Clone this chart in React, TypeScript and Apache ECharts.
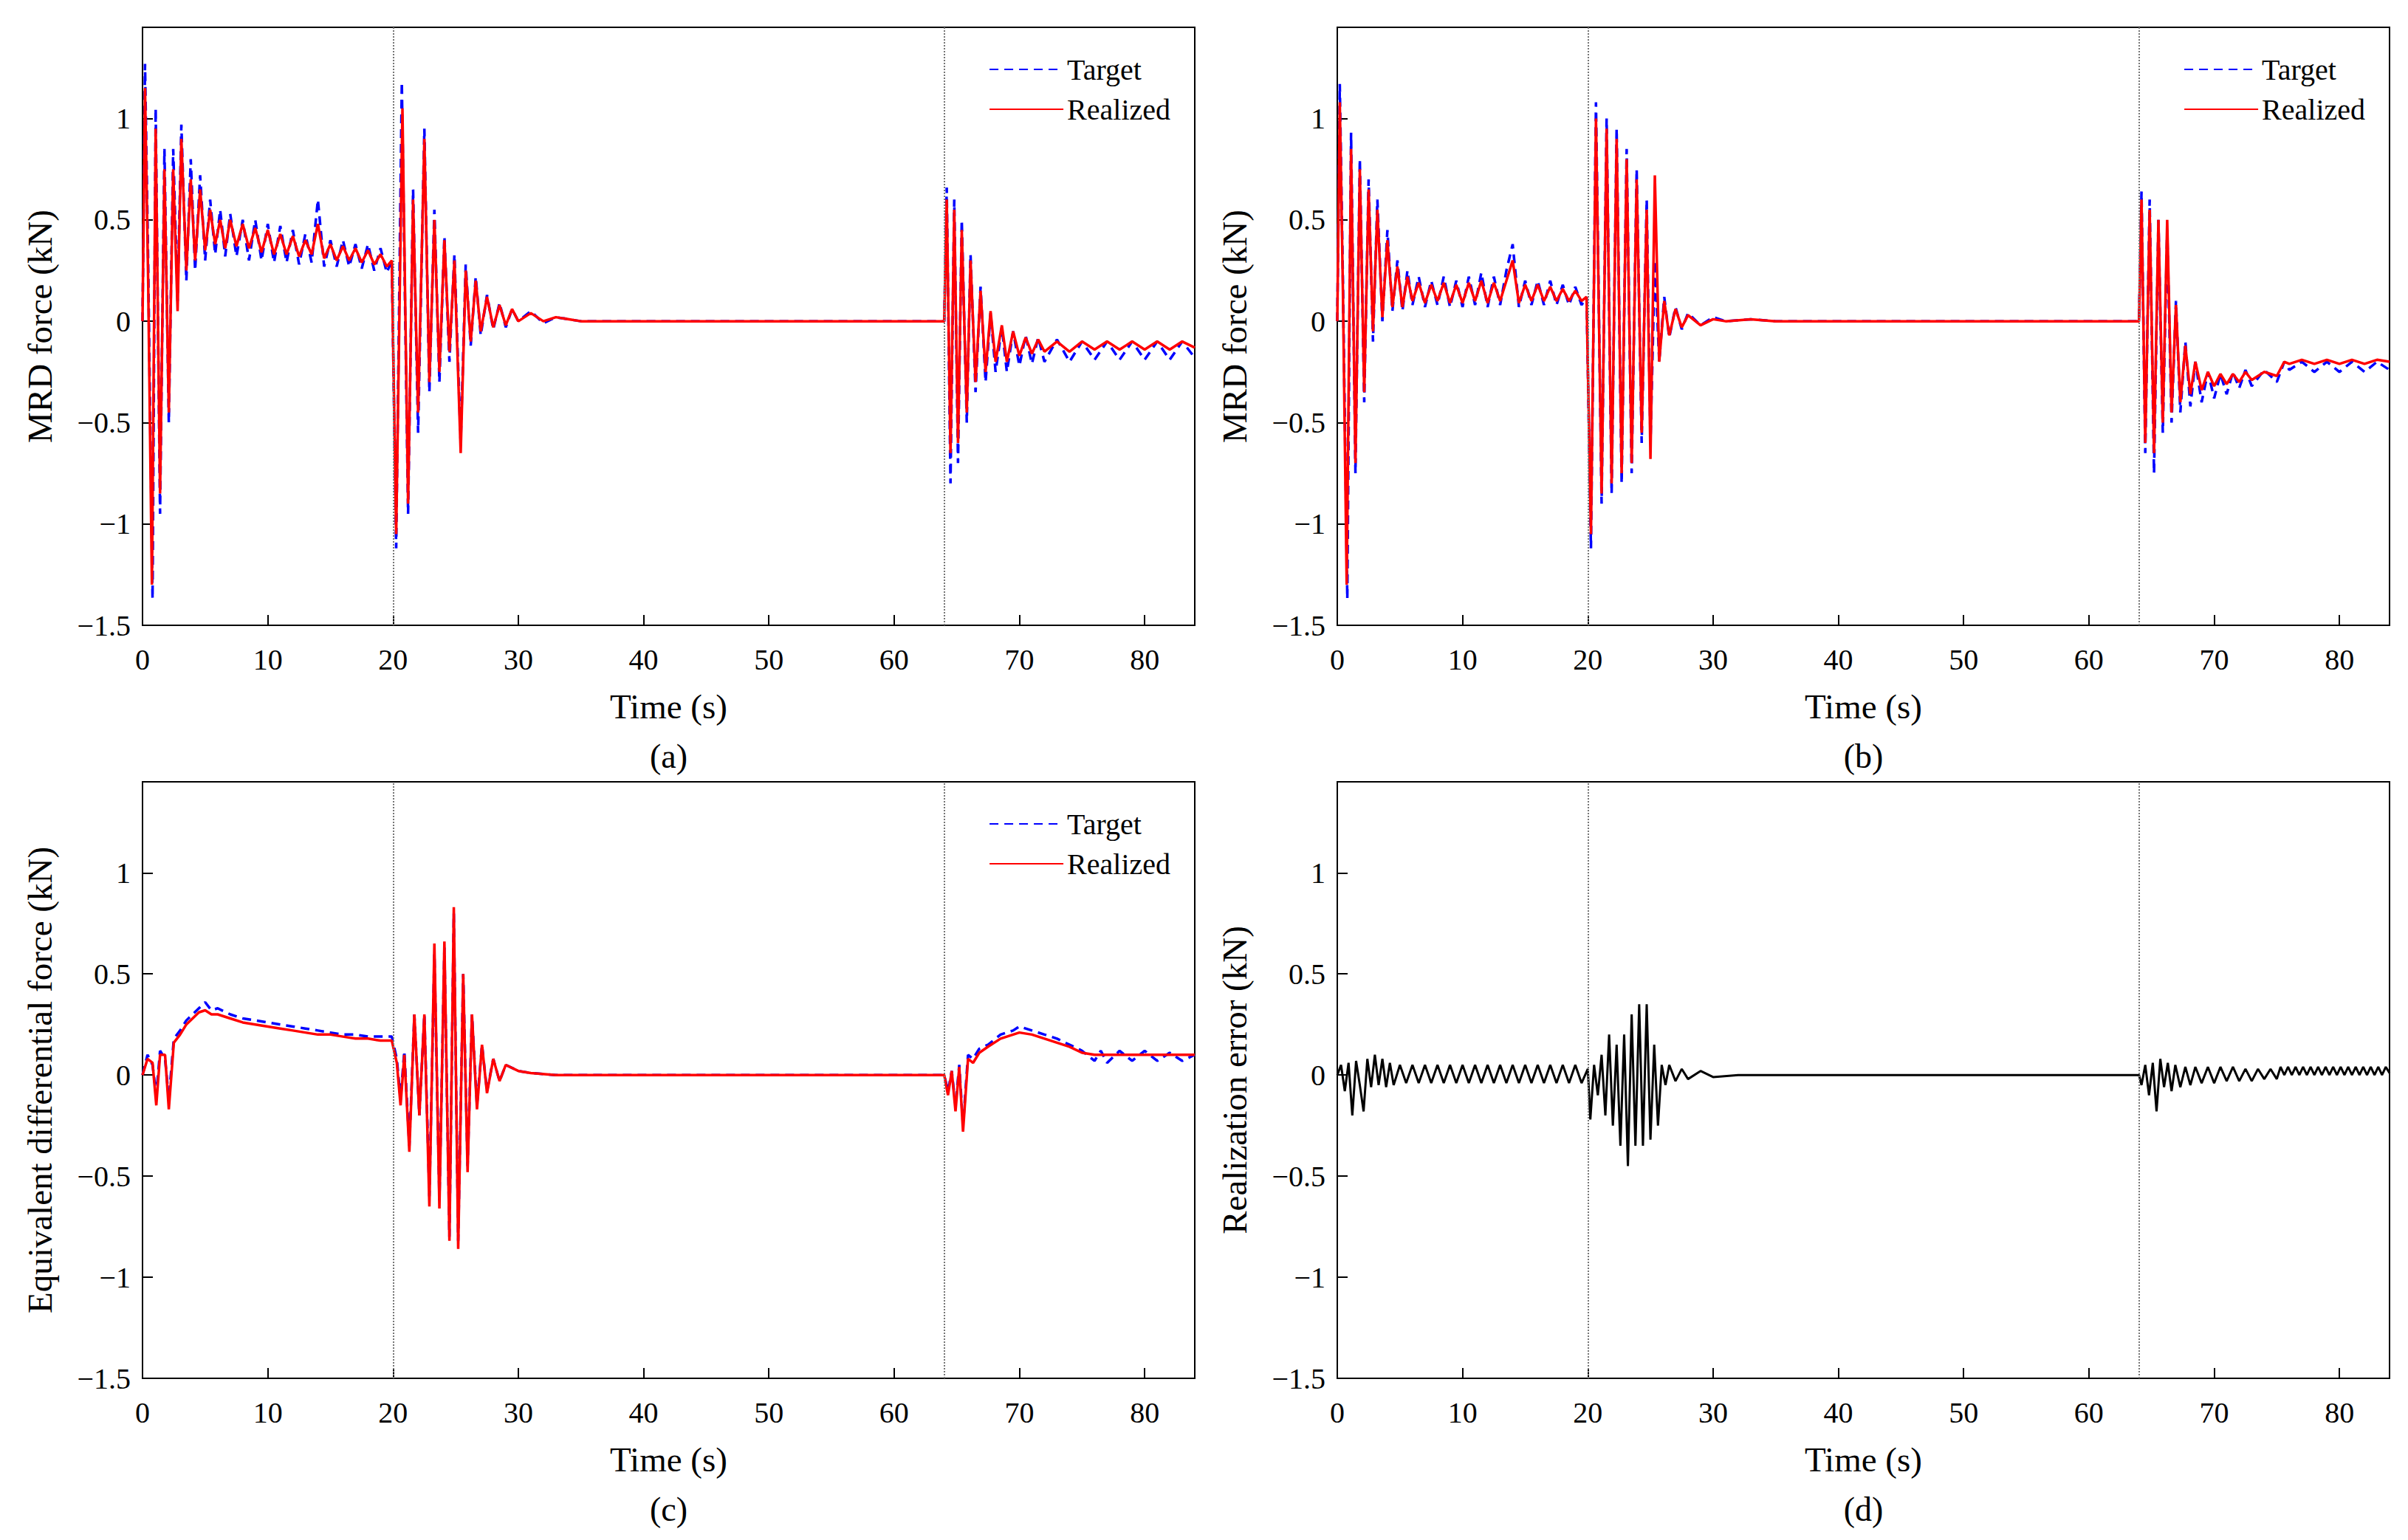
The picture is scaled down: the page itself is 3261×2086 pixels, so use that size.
import React, { useEffect, useRef } from "react";
import * as echarts from "echarts";

const aTarget: number[][] = [[0,0],[0.2,1.27],[0.45,0.3],[0.8,-1.37],[1.05,1.05],[1.4,-0.95],[1.75,0.85],[2.1,-0.5],[2.45,0.85],[2.8,0.1],[3.1,0.97],[3.5,0.2],[3.85,0.8],[4.2,0.25],[4.6,0.72],[5,0.3],[5.4,0.6],[5.8,0.33],[6.2,0.55],[6.6,0.32],[7,0.53],[7.5,0.32],[8,0.5],[8.5,0.3],[9,0.5],[9.5,0.3],[10,0.48],[10.5,0.29],[11,0.47],[11.5,0.29],[12,0.45],[12.5,0.28],[13,0.43],[13.5,0.29],[14,0.6],[14.5,0.27],[15,0.4],[15.5,0.27],[16,0.4],[16.5,0.27],[17,0.38],[17.5,0.26],[18,0.38],[18.5,0.25],[19,0.36],[19.5,0.24],[19.9,0.3],[20.25,-1.12],[20.7,1.18],[21.2,-0.95],[21.6,0.65],[22.0,-0.55],[22.5,0.95],[22.9,-0.35],[23.3,0.55],[23.7,-0.3],[24.1,0.42],[24.5,-0.2],[24.9,0.33],[25.4,-0.6],[25.8,0.28],[26.2,-0.12],[26.6,0.22],[27,-0.07],[27.5,0.13],[28,-0.04],[28.5,0.09],[29,-0.03],[29.5,0.06],[30,0],[31,0.05],[32,-0.01],[33,0.02],[35,0],[64,0],[64.2,0.66],[64.5,-0.8],[64.8,0.6],[65.1,-0.7],[65.4,0.5],[65.8,-0.5],[66.1,0.33],[66.5,-0.35],[66.9,0.17],[67.3,-0.3],[67.7,0.04],[68.1,-0.25],[68.6,-0.03],[69,-0.25],[69.5,-0.05],[70,-0.22],[70.5,-0.07],[71,-0.21],[71.5,-0.08],[72,-0.2],[73,-0.09],[74,-0.2],[75,-0.1],[76,-0.19],[77,-0.1],[78,-0.19],[79,-0.1],[80,-0.19],[81,-0.1],[82,-0.19],[83,-0.1],[84,-0.18]];
const aRealized: number[][] = [[0,0],[0.2,1.15],[0.45,0.2],[0.75,-1.3],[1.05,0.95],[1.4,-0.85],[1.75,0.75],[2.1,-0.45],[2.45,0.75],[2.8,0.05],[3.1,0.9],[3.5,0.25],[3.85,0.7],[4.2,0.3],[4.6,0.65],[5,0.35],[5.4,0.55],[5.8,0.38],[6.2,0.5],[6.6,0.36],[7,0.5],[7.5,0.37],[8,0.48],[8.5,0.36],[9,0.46],[9.5,0.34],[10,0.45],[10.5,0.33],[11,0.43],[11.5,0.33],[12,0.42],[12.5,0.32],[13,0.4],[13.5,0.33],[14,0.48],[14.5,0.31],[15,0.38],[15.5,0.3],[16,0.37],[16.5,0.3],[17,0.36],[17.5,0.29],[18,0.35],[18.5,0.28],[19,0.33],[19.5,0.27],[19.9,0.3],[20.25,-1.05],[20.75,1.05],[21.2,-0.9],[21.6,0.6],[22.0,-0.45],[22.5,0.9],[22.9,-0.3],[23.3,0.5],[23.7,-0.25],[24.1,0.4],[24.5,-0.15],[24.9,0.3],[25.4,-0.65],[25.8,0.25],[26.2,-0.1],[26.6,0.2],[27,-0.05],[27.5,0.12],[28,-0.03],[28.5,0.08],[29,-0.02],[29.5,0.06],[30,0],[31,0.04],[32,0],[33,0.02],[35,0],[64,0],[64.2,0.6],[64.5,-0.65],[64.8,0.55],[65.1,-0.6],[65.4,0.45],[65.8,-0.45],[66.1,0.3],[66.5,-0.3],[66.9,0.15],[67.3,-0.25],[67.7,0.05],[68.1,-0.2],[68.6,-0.02],[69,-0.2],[69.5,-0.05],[70,-0.17],[70.5,-0.08],[71,-0.16],[71.5,-0.09],[72,-0.15],[73,-0.1],[74,-0.15],[75,-0.1],[76,-0.14],[77,-0.1],[78,-0.14],[79,-0.1],[80,-0.14],[81,-0.1],[82,-0.14],[83,-0.1],[84,-0.13]];

const bTarget: number[][] = [[0,0],[0.2,1.17],[0.45,0.2],[0.8,-1.37],[1.1,0.93],[1.45,-0.75],[1.8,0.8],[2.15,-0.4],[2.5,0.7],[2.85,-0.1],[3.2,0.6],[3.6,0.0],[4,0.45],[4.4,0.05],[4.8,0.3],[5.2,0.05],[5.6,0.25],[6,0.08],[6.5,0.22],[7,0.07],[7.5,0.2],[8,0.08],[8.5,0.22],[9,0.07],[9.5,0.2],[10,0.07],[10.5,0.22],[11,0.08],[11.5,0.24],[12,0.07],[12.5,0.22],[13,0.08],[13.5,0.25],[14,0.38],[14.5,0.07],[15,0.2],[15.5,0.08],[16,0.2],[16.5,0.08],[17,0.2],[17.5,0.08],[18,0.18],[18.5,0.08],[19,0.17],[19.5,0.08],[19.9,0.12],[20.25,-1.12],[20.65,1.08],[21.1,-0.9],[21.5,1.0],[21.9,-0.85],[22.3,0.95],[22.7,-0.8],[23.1,0.85],[23.5,-0.75],[23.9,0.75],[24.3,-0.6],[24.7,0.6],[25.0,-0.6],[25.35,0.3],[25.7,-0.2],[26.1,0.12],[26.5,-0.08],[27,0.07],[27.5,-0.04],[28,0.04],[29,-0.02],[30,0.02],[31,0],[33,0.01],[35,0],[64,0],[64.2,0.64],[64.5,-0.65],[64.85,0.6],[65.2,-0.75],[65.55,0.5],[65.9,-0.55],[66.25,0.45],[66.6,-0.5],[66.95,0.1],[67.3,-0.45],[67.7,-0.1],[68.1,-0.42],[68.5,-0.2],[69,-0.4],[69.5,-0.25],[70,-0.38],[70.5,-0.26],[71,-0.36],[71.5,-0.25],[72,-0.33],[72.5,-0.24],[73,-0.32],[74,-0.24],[75,-0.3],[75.6,-0.2],[76,-0.24],[77,-0.2],[78,-0.25],[79,-0.2],[80,-0.25],[81,-0.2],[82,-0.25],[83,-0.2],[84,-0.24]];
const bRealized: number[][] = [[0,0],[0.2,1.08],[0.45,0.15],[0.75,-1.3],[1.1,0.85],[1.45,-0.7],[1.8,0.75],[2.15,-0.35],[2.5,0.65],[2.85,-0.05],[3.2,0.55],[3.6,0.02],[4,0.4],[4.4,0.07],[4.8,0.27],[5.2,0.07],[5.6,0.22],[6,0.1],[6.5,0.19],[7,0.09],[7.5,0.18],[8,0.1],[8.5,0.19],[9,0.09],[9.5,0.18],[10,0.09],[10.5,0.19],[11,0.1],[11.5,0.2],[12,0.09],[12.5,0.19],[13,0.1],[13.5,0.2],[14,0.3],[14.5,0.09],[15,0.18],[15.5,0.1],[16,0.18],[16.5,0.1],[17,0.17],[17.5,0.1],[18,0.16],[18.5,0.1],[19,0.15],[19.5,0.1],[19.9,0.12],[20.25,-1.05],[20.65,1.0],[21.1,-0.85],[21.5,0.95],[21.9,-0.8],[22.3,0.9],[22.7,-0.75],[23.1,0.8],[23.5,-0.7],[23.9,0.7],[24.3,-0.55],[24.7,0.55],[25.0,-0.68],[25.35,0.72],[25.7,-0.2],[26.1,0.1],[26.5,-0.07],[27,0.06],[27.5,-0.03],[28,0.03],[29,-0.02],[30,0.01],[31,0],[33,0.01],[35,0],[64,0],[64.2,0.6],[64.5,-0.6],[64.85,0.55],[65.2,-0.65],[65.55,0.5],[65.9,-0.5],[66.25,0.5],[66.6,-0.45],[66.95,0.08],[67.3,-0.4],[67.7,-0.12],[68.1,-0.36],[68.5,-0.2],[69,-0.34],[69.5,-0.25],[70,-0.32],[70.5,-0.26],[71,-0.31],[71.5,-0.26],[72,-0.3],[72.5,-0.25],[73,-0.29],[74,-0.25],[75,-0.27],[75.6,-0.2],[76,-0.21],[77,-0.19],[78,-0.21],[79,-0.19],[80,-0.21],[81,-0.19],[82,-0.21],[83,-0.19],[84,-0.2]];

const cTarget: number[][] = [[0,0],[0.4,0.1],[0.8,0.05],[1.1,-0.1],[1.4,0.12],[1.8,0.08],[2.1,-0.12],[2.5,0.18],[3,0.22],[3.5,0.27],[4,0.3],[4.5,0.33],[5,0.36],[5.5,0.32],[6,0.33],[7,0.3],[8,0.28],[9,0.27],[10,0.26],[11,0.25],[12,0.24],[13,0.23],[14,0.22],[15,0.21],[16,0.2],[17,0.2],[18,0.19],[19,0.19],[19.9,0.19],[20.3,0.08],[20.6,-0.12],[20.9,0.12],[21.3,-0.35],[21.7,0.3],[22.1,-0.2],[22.5,0.3],[22.9,-0.6],[23.3,0.6],[23.7,-0.62],[24.1,0.63],[24.5,-0.8],[24.85,0.8],[25.2,-0.82],[25.6,0.5],[25.95,-0.45],[26.3,0.3],[26.7,-0.15],[27.1,0.15],[27.5,-0.08],[28,0.08],[28.5,-0.03],[29,0.05],[30,0.02],[31,0.01],[33,0],[64,0],[64.3,-0.08],[64.6,0.02],[64.9,-0.15],[65.2,0.05],[65.5,-0.25],[65.9,0.1],[66.3,0.08],[66.8,0.13],[67.5,0.15],[68.5,0.2],[69.5,0.22],[70,0.24],[71,0.22],[72,0.2],[73,0.18],[74,0.15],[75,0.12],[76,0.07],[76.5,0.12],[77,0.06],[78,0.12],[79,0.07],[80,0.12],[81,0.07],[82,0.11],[83,0.07],[84,0.1]];
const cRealized: number[][] = [[0,0],[0.4,0.08],[0.8,0.06],[1.1,-0.15],[1.4,0.1],[1.8,0.1],[2.1,-0.17],[2.5,0.16],[3,0.2],[3.5,0.25],[4,0.28],[4.5,0.31],[5,0.32],[5.5,0.3],[6,0.3],[7,0.28],[8,0.26],[9,0.25],[10,0.24],[11,0.23],[12,0.22],[13,0.21],[14,0.2],[15,0.2],[16,0.19],[17,0.18],[18,0.18],[19,0.17],[19.9,0.17],[20.3,0.06],[20.6,-0.15],[20.9,0.1],[21.3,-0.38],[21.7,0.3],[22.1,-0.2],[22.5,0.3],[22.9,-0.65],[23.3,0.65],[23.7,-0.66],[24.1,0.66],[24.5,-0.82],[24.85,0.83],[25.2,-0.86],[25.6,0.5],[25.95,-0.48],[26.3,0.3],[26.7,-0.17],[27.1,0.15],[27.5,-0.09],[28,0.08],[28.5,-0.03],[29,0.05],[30,0.02],[31,0.01],[33,0],[64,0],[64.3,-0.1],[64.6,0.02],[64.9,-0.18],[65.2,0.04],[65.5,-0.28],[65.9,0.08],[66.3,0.06],[66.8,0.11],[67.5,0.14],[68.5,0.18],[69.5,0.2],[70,0.21],[71,0.2],[72,0.18],[73,0.16],[74,0.14],[75,0.11],[76,0.1],[77,0.1],[78,0.1],[79,0.1],[80,0.1],[81,0.1],[82,0.1],[83,0.1],[84,0.1]];

const dError: number[][] = [[0,0],[0.3,0.05],[0.6,-0.08],[0.9,0.06],[1.2,-0.2],[1.5,0.07],[1.8,-0.05],[2.1,-0.18],[2.4,0.08],[2.7,-0.06],[3.0,0.1],[3.3,-0.05],[3.6,0.08],[3.9,-0.06],[4.2,0.06],[4.5,-0.05],[5,0.05],[5.5,-0.04],[6,0.05],[6.5,-0.04],[7,0.05],[7.5,-0.04],[8,0.05],[8.5,-0.04],[9,0.05],[9.5,-0.04],[10,0.05],[10.5,-0.04],[11,0.05],[11.5,-0.04],[12,0.05],[12.5,-0.04],[13,0.05],[13.5,-0.04],[14,0.05],[14.5,-0.04],[15,0.05],[15.5,-0.04],[16,0.05],[16.5,-0.04],[17,0.05],[17.5,-0.04],[18,0.05],[18.5,-0.04],[19,0.05],[19.5,-0.04],[20,0.03],[20.2,-0.22],[20.5,0.05],[20.8,-0.1],[21.1,0.1],[21.4,-0.2],[21.7,0.2],[22.0,-0.25],[22.3,0.15],[22.6,-0.35],[22.9,0.2],[23.2,-0.45],[23.5,0.3],[23.8,-0.35],[24.1,0.35],[24.4,-0.35],[24.7,0.35],[25.0,-0.32],[25.3,0.15],[25.6,-0.25],[25.9,0.05],[26.2,-0.05],[26.5,0.05],[27,-0.03],[27.5,0.03],[28,-0.02],[29,0.02],[30,-0.01],[32,0],[64,0],[64.2,-0.05],[64.5,0.05],[64.8,-0.1],[65.1,0.06],[65.4,-0.18],[65.7,0.08],[66,-0.06],[66.3,0.06],[66.6,-0.08],[66.9,0.05],[67.3,-0.06],[67.7,0.04],[68.1,-0.05],[68.5,0.04],[69,-0.04],[69.5,0.04],[70,-0.04],[70.5,0.04],[71,-0.03],[71.5,0.04],[72,-0.03],[72.5,0.03],[73,-0.03],[73.5,0.03],[74,-0.02],[74.5,0.03],[75,-0.02],[75.3,0.04],[75.6,0.0],[75.9,0.04],[76.2,0.0],[76.5,0.04],[76.8,0.0],[77.1,0.04],[77.4,0.0],[77.7,0.04],[78,0.0],[78.3,0.04],[78.6,0.0],[78.9,0.04],[79.2,0.0],[79.5,0.04],[79.8,0.0],[80.1,0.04],[80.4,0.0],[80.7,0.04],[81,0.0],[81.3,0.04],[81.6,0.0],[81.9,0.04],[82.2,0.0],[82.5,0.04],[82.8,0.0],[83.1,0.04],[83.4,0.0],[83.7,0.04],[84,0.01]];

const yAxisNames = ["MRD force (kN)", "MRD force (kN)", "Equivalent differential force (kN)", "Realization error (kN)"];
const captions = ["(a)", "(b)", "(c)", "(d)"];
const FONT = "Liberation Serif";

export default function App() {
  const ref = useRef<HTMLDivElement>(null);
  useEffect(() => {
    const chart = echarts.init(ref.current!, null, { renderer: "svg" });
    const grids = [
      { left: 185, top: 29, width: 1425, height: 810 },
      { left: 1803, top: 29, width: 1425, height: 810 },
      { left: 185, top: 1051, width: 1425, height: 808 },
      { left: 1803, top: 1051, width: 1425, height: 808 },
    ];
    const xAxes = grids.map((_, i) => ({
      type: "value", gridIndex: i, min: 0, max: 84, interval: 10,
      name: "Time (s)", nameLocation: "middle", nameGap: 86,
      nameTextStyle: { fontFamily: FONT, fontSize: 47, color: "#000" },
      axisLine: { show: true, onZero: false, lineStyle: { color: "#000", width: 2 } },
      axisTick: { inside: true, length: 14, lineStyle: { color: "#000", width: 2 } },
      axisLabel: { fontFamily: FONT, fontSize: 40, color: "#000", margin: 26, showMaxLabel: false },
      splitLine: { show: false },
    }));
    const yAxes = grids.map((_, i) => ({
      type: "value", gridIndex: i, min: -1.5, max: 1.45, interval: 0.5,
      name: yAxisNames[i], nameLocation: "middle", nameGap: 116,
      nameTextStyle: { fontFamily: FONT, fontSize: 47, color: "#000" },
      axisLine: { show: true, onZero: false, lineStyle: { color: "#000", width: 2 } },
      axisTick: { inside: true, length: 14, lineStyle: { color: "#000", width: 2 } },
      axisLabel: {
        fontFamily: FONT, fontSize: 40, color: "#000", margin: 16,
        formatter: (v: number) => (Math.abs(v * 2 - Math.round(v * 2)) < 1e-6 ? String(v).replace("-", "\u2212") : ""),
      },
      splitLine: { show: false },
    }));
    const vlines = {
      silent: true, symbol: "none", label: { show: false },
      lineStyle: { color: "#777", type: "dotted", width: 2 },
      data: [{ xAxis: 20 }, { xAxis: 64 }],
    };
    const pair = (i: number, tgt: number[][], rea: number[][]) => [
      { name: "Target", type: "line", xAxisIndex: i, yAxisIndex: i, data: tgt, showSymbol: false, symbol: "none",
        lineStyle: { color: "#0000ff", width: 3.5, type: [12, 8] }, itemStyle: { color: "#0000ff" }, markLine: vlines },
      { name: "Realized", type: "line", xAxisIndex: i, yAxisIndex: i, data: rea, showSymbol: false, symbol: "none",
        lineStyle: { color: "#ff0000", width: 3.5 }, itemStyle: { color: "#ff0000" } },
    ];
    const series: any[] = [
      ...pair(0, aTarget, aRealized),
      ...pair(1, bTarget, bRealized),
      ...pair(2, cTarget, cRealized),
      { name: "Error", type: "line", xAxisIndex: 3, yAxisIndex: 3, data: dError, showSymbol: false, symbol: "none",
        lineStyle: { color: "#000", width: 3 }, markLine: vlines },
    ];
    const legend = (g: any) => ({
      data: ["Target", "Realized"], orient: "vertical",
      right: 3245 - (g.left + g.width) + 28, top: g.top + 32,
      itemWidth: 100, itemHeight: 14, itemGap: 14,
      itemStyle: { opacity: 0 },
      textStyle: { fontFamily: FONT, fontSize: 40, color: "#000" },
      selectedMode: false,
    });
    chart.setOption({
      animation: false,
      backgroundColor: "#fff",
      grid: grids.map((g) => ({ ...g, show: true, borderColor: "#000", borderWidth: 2, backgroundColor: "transparent" })),
      xAxis: xAxes,
      yAxis: yAxes,
      legend: [legend(grids[0]), legend(grids[1]), legend(grids[2])],
      series,
      graphic: grids.map((g, i) => ({
        type: "text", x: g.left + g.width / 2, y: g.top + g.height + 154,
        style: { text: captions[i], fontFamily: FONT, fontSize: 46, fill: "#000", textAlign: "center" },
      })),
    });
    return () => chart.dispose();
  }, []);
  return <div ref={ref} style={{ width: 3245, height: 2070 }} />;
}
